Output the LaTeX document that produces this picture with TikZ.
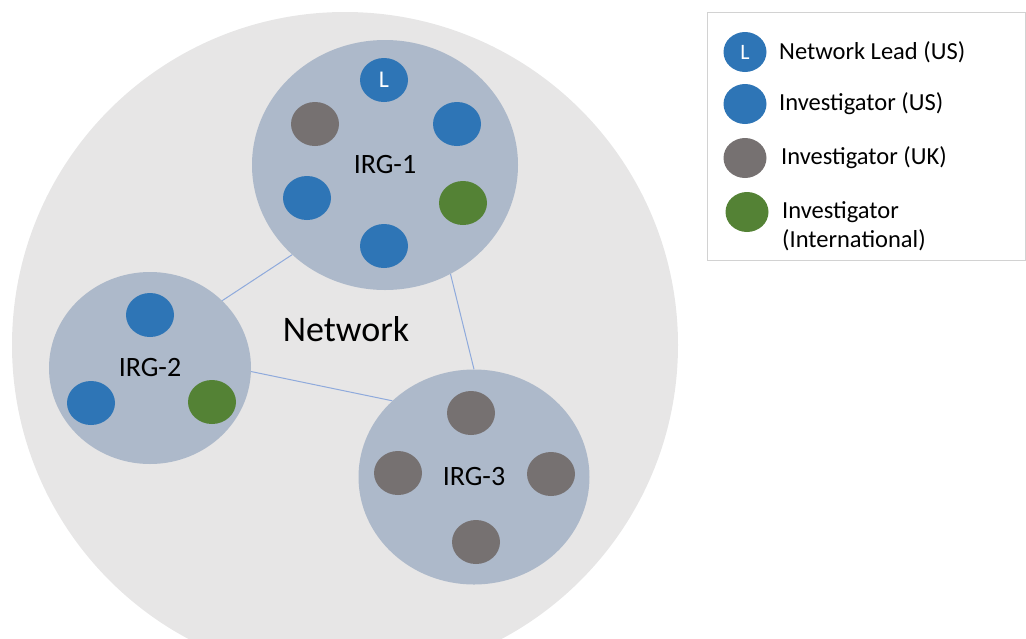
\documentclass[tikz,border=0pt]{standalone}
\usepackage{fontspec}
\setmainfont{Carlito}
\usepackage{tikz}
\usetikzlibrary{positioning}
\usetikzlibrary{shapes.geometric}
\definecolor{netgray}{HTML}{E7E6E6}
\definecolor{irgblue}{HTML}{ADB9CA}
\definecolor{usblue}{HTML}{2E75B6}
\definecolor{ukgray}{HTML}{767171}
\definecolor{intgreen}{HTML}{548235}
\definecolor{linkblue}{HTML}{8FAADC}
\tikzstyle{link} = [linkblue, line width=1pt]

\begin{document}
\begin{tikzpicture}[
    x = 1pt, y = -1pt,
    every node/.style = {ellipse, inner sep = 0pt},
    irg/.style = {fill = irgblue, font = \fontsize{28}{33}\selectfont},
    member/.style = {minimum width = 48pt, minimum height = 44pt},
    us/.style = {member, fill = usblue},
    uk/.style = {member, fill = ukgray},
    intl/.style = {member, fill = intgreen},
    keydot/.style = {minimum width = 43pt, minimum height = 40pt},
    legtext/.style = {shape = rectangle, anchor = west, align = left, font = \fontsize{24.5}{29}\selectfont}
  ]
  \useasboundingbox (0,0) rectangle (1026,638);

  % Network
  \node[fill = netgray, minimum size = 666pt] (net) at (345,345) {};
  \node[shape = rectangle, font = \fontsize{36}{43}\selectfont] (netlabel) at (346,329) {Network};

  % IRGs
  \node[irg, minimum width = 266pt, minimum height = 250pt] (irg1) at (385,165) {IRG-1};
  \node[irg, minimum width = 202pt, minimum height = 192pt] (irg2) at (150,368) {IRG-2};
  \node[irg, minimum width = 231pt, minimum height = 215pt] (irg3) at (474,477) {IRG-3};

  % Members of IRG-1
  \node[us, text = white, font = \fontsize{24}{28}\selectfont] (lead) at (384,80) {L};
  \node[uk] (g1uk) at (315,124) {};
  \node[us] (g1usa) at (457,124) {};
  \node[us] (g1usb) at (307,198) {};
  \node[intl] (g1int) at (463,203) {};
  \node[us] (g1usc) at (384,246) {};

  % Members of IRG-2
  \node[us] (g2usa) at (150,315) {};
  \node[us] (g2usb) at (91,403) {};
  \node[intl] (g2int) at (212,402) {};

  % Members of IRG-3
  \node[uk] (g3uka) at (471,413) {};
  \node[uk] (g3ukb) at (398,473) {};
  \node[uk] (g3ukc) at (551,474) {};
  \node[uk] (g3ukd) at (476,542) {};

  % Links
  \draw[link] (irg1.224) -- (irg2.43);
  \draw[link] (irg2.-2) -- (irg3.137);
  \draw[link] (irg1.-59) -- (irg3.90);

  % Legend
  \draw[gray!35, line width = 1pt] (707,12) rectangle (1025,260);
  \node[us, keydot, text = white, font = \fontsize{22}{26}\selectfont] (keylead) at (745,52) {L};
  \node[us, keydot] (keyus) at (745,104) {};
  \node[uk, keydot] (keyuk) at (745,158) {};
  \node[intl, keydot] (keyint) at (747,212) {};
  \node[legtext] (leadtext) at (779,52) {Network Lead (US)};
  \node[legtext] (ustext) at (779,104) {Investigator (US)};
  \node[legtext] (uktext) at (781,158) {Investigator (UK)};
  \node[legtext] (inttext) at (782,226) {Investigator\\(International)};
\end{tikzpicture}
\end{document}
